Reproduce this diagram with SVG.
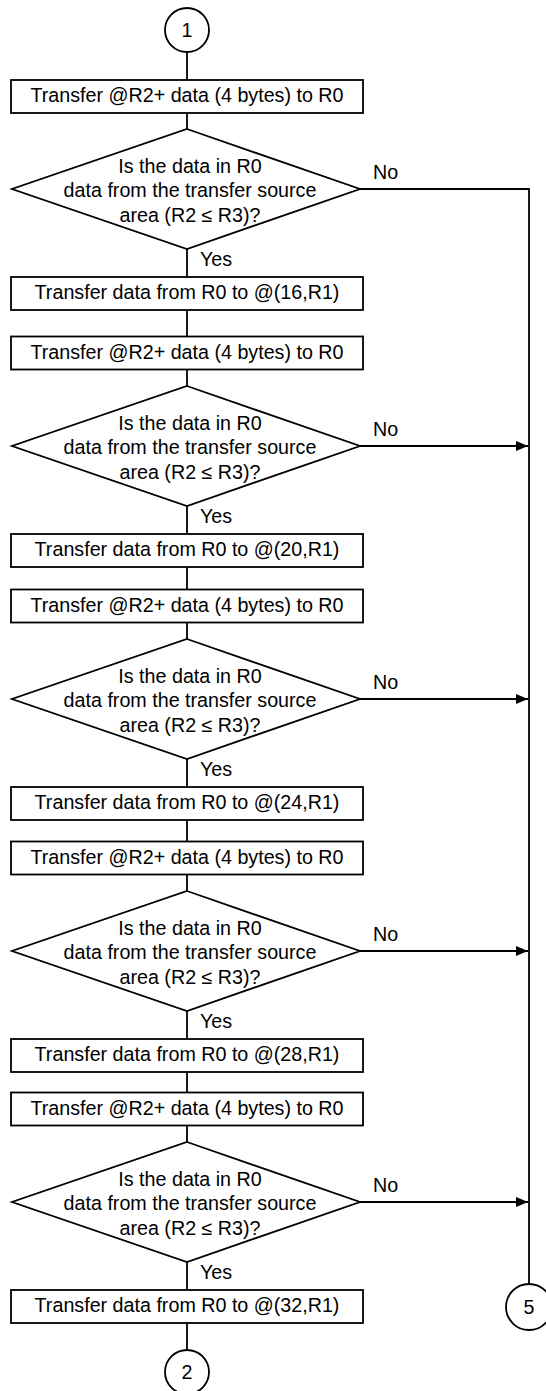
<svg xmlns="http://www.w3.org/2000/svg" width="546" height="1391" viewBox="0 0 546 1391">
<style>
.shape{fill:#fff;stroke:#000;stroke-width:1.8}
.ln{fill:none;stroke:#000;stroke-width:1.8}
text{font-family:"Liberation Sans",Arial,sans-serif;font-size:19.7px;fill:#000}
.c{text-anchor:middle}
</style>
<defs>
<marker id="ah" markerWidth="12" markerHeight="10" refX="12" refY="5" orient="auto" markerUnits="userSpaceOnUse">
<path d="M0,0 L12,5 L0,10 Z" fill="#000"/>
</marker>
</defs>
<rect width="546" height="1391" fill="#fff"/>
<g id="connectors">
<line class="ln" x1="187" y1="52" x2="187" y2="80"/>
<line class="ln" x1="187" y1="113" x2="187" y2="129"/>
<line class="ln" x1="187" y1="249" x2="187" y2="277"/>
<line class="ln" x1="187" y1="310" x2="187" y2="336.5"/>
<line class="ln" x1="187" y1="369.5" x2="187" y2="386"/>
<line class="ln" x1="187" y1="506" x2="187" y2="534"/>
<line class="ln" x1="187" y1="567" x2="187" y2="589.5"/>
<line class="ln" x1="187" y1="622.5" x2="187" y2="639"/>
<line class="ln" x1="187" y1="759" x2="187" y2="787"/>
<line class="ln" x1="187" y1="820" x2="187" y2="841.5"/>
<line class="ln" x1="187" y1="874.5" x2="187" y2="891"/>
<line class="ln" x1="187" y1="1011" x2="187" y2="1039"/>
<line class="ln" x1="187" y1="1072" x2="187" y2="1092.5"/>
<line class="ln" x1="187" y1="1125.5" x2="187" y2="1142"/>
<line class="ln" x1="187" y1="1262" x2="187" y2="1290"/>
<line class="ln" x1="187" y1="1323" x2="187" y2="1350"/>
<polyline class="ln" points="360,189 529,189 529,1284"/>
<line class="ln" x1="360" y1="446" x2="528" y2="446" marker-end="url(#ah)"/>
<line class="ln" x1="360" y1="699" x2="528" y2="699" marker-end="url(#ah)"/>
<line class="ln" x1="360" y1="951" x2="528" y2="951" marker-end="url(#ah)"/>
<line class="ln" x1="360" y1="1202" x2="528" y2="1202" marker-end="url(#ah)"/>
<text x="373" y="179">No</text>
<text x="373" y="436">No</text>
<text x="373" y="689">No</text>
<text x="373" y="941">No</text>
<text x="373" y="1192">No</text>
<text x="200" y="266">Yes</text>
<text x="200" y="523">Yes</text>
<text x="200" y="776">Yes</text>
<text x="200" y="1028">Yes</text>
<text x="200" y="1279">Yes</text>
</g>
<g id="start1">
<circle class="shape" cx="187" cy="30" r="22"/>
<text class="c" x="187" y="37">1</text>
</g>
<g id="a1"><rect class="shape" x="11" y="80" width="352" height="33"/><text class="c" x="187" y="102.3">Transfer @R2+ data (4 bytes) to R0</text></g>
<g id="d1"><polygon class="shape" points="187,129 360,189 187,249 12,189"/>
<text class="c" x="190" y="173">Is the data in R0</text><text class="c" x="190" y="197">data from the transfer source</text><text class="c" x="190" y="221.5">area (R2 ≤ R3)?</text></g>
<g id="b1"><rect class="shape" x="11" y="277" width="352" height="33"/><text class="c" x="187" y="299.3">Transfer data from R0 to @(16,R1)</text></g>
<g id="a2"><rect class="shape" x="11" y="336.5" width="352" height="33"/><text class="c" x="187" y="358.8">Transfer @R2+ data (4 bytes) to R0</text></g>
<g id="d2"><polygon class="shape" points="187,386 360,446 187,506 12,446"/>
<text class="c" x="190" y="430">Is the data in R0</text><text class="c" x="190" y="454">data from the transfer source</text><text class="c" x="190" y="478.5">area (R2 ≤ R3)?</text></g>
<g id="b2"><rect class="shape" x="11" y="534" width="352" height="33"/><text class="c" x="187" y="556.3">Transfer data from R0 to @(20,R1)</text></g>
<g id="a3"><rect class="shape" x="11" y="589.5" width="352" height="33"/><text class="c" x="187" y="611.8">Transfer @R2+ data (4 bytes) to R0</text></g>
<g id="d3"><polygon class="shape" points="187,639 360,699 187,759 12,699"/>
<text class="c" x="190" y="683">Is the data in R0</text><text class="c" x="190" y="707">data from the transfer source</text><text class="c" x="190" y="731.5">area (R2 ≤ R3)?</text></g>
<g id="b3"><rect class="shape" x="11" y="787" width="352" height="33"/><text class="c" x="187" y="809.3">Transfer data from R0 to @(24,R1)</text></g>
<g id="a4"><rect class="shape" x="11" y="841.5" width="352" height="33"/><text class="c" x="187" y="863.8">Transfer @R2+ data (4 bytes) to R0</text></g>
<g id="d4"><polygon class="shape" points="187,891 360,951 187,1011 12,951"/>
<text class="c" x="190" y="935">Is the data in R0</text><text class="c" x="190" y="959">data from the transfer source</text><text class="c" x="190" y="983.5">area (R2 ≤ R3)?</text></g>
<g id="b4"><rect class="shape" x="11" y="1039" width="352" height="33"/><text class="c" x="187" y="1061.3">Transfer data from R0 to @(28,R1)</text></g>
<g id="a5"><rect class="shape" x="11" y="1092.5" width="352" height="33"/><text class="c" x="187" y="1114.8">Transfer @R2+ data (4 bytes) to R0</text></g>
<g id="d5"><polygon class="shape" points="187,1142 360,1202 187,1262 12,1202"/>
<text class="c" x="190" y="1186">Is the data in R0</text><text class="c" x="190" y="1210">data from the transfer source</text><text class="c" x="190" y="1234.5">area (R2 ≤ R3)?</text></g>
<g id="b5"><rect class="shape" x="11" y="1290" width="352" height="33"/><text class="c" x="187" y="1312.3">Transfer data from R0 to @(32,R1)</text></g>
<g id="end2">
<circle class="shape" cx="187" cy="1372" r="22"/>
<text class="c" x="187" y="1379">2</text>
</g>
<g id="end5">
<circle class="shape" cx="529" cy="1307" r="23"/>
<text class="c" x="529" y="1314">5</text>
</g>
</svg>
